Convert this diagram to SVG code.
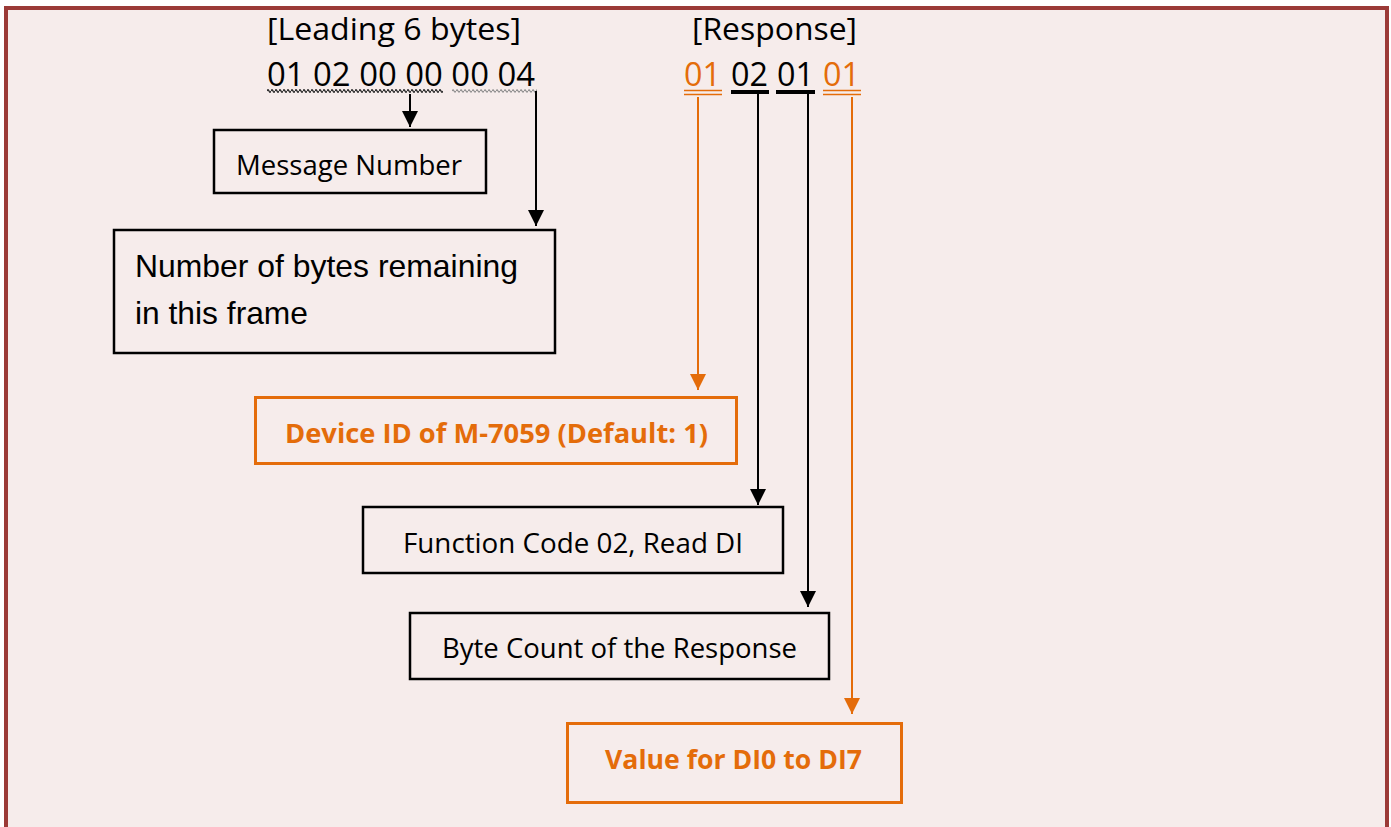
<svg xmlns="http://www.w3.org/2000/svg" width="1391" height="827" viewBox="0 0 1391 827">
<defs>
<style>
.box{fill:none;stroke:#000;stroke-width:2.5}
.obox{fill:none;stroke:#e46c0a;stroke-width:3}
.t{font-family:"Open Sans","Noto Sans",sans-serif;fill:#000}
.a{font-family:"Liberation Sans",Arial,sans-serif;fill:#000}
.o{font-family:"Open Sans","Noto Sans",sans-serif;fill:#e46c0a;font-weight:bold}
.ln{stroke:#000;stroke-width:2;fill:none}
.oln{stroke:#e46c0a;stroke-width:2;fill:none}
</style>
<pattern id="wave1" x="267" y="88" width="4" height="6" patternUnits="userSpaceOnUse">
<path d="M0,3 Q1,0.5 2,3 T4,3" fill="none" stroke="#222" stroke-width="1.3"/>
</pattern>
<pattern id="wave2" x="452" y="88" width="4" height="6" patternUnits="userSpaceOnUse">
<path d="M0,3 Q1,0.8 2,3 T4,3" fill="none" stroke="#8a8a8a" stroke-width="1.1"/>
</pattern>
<marker id="ah" markerWidth="16" markerHeight="16" viewBox="0 0 16 16" refX="16" refY="8" orient="auto" markerUnits="userSpaceOnUse">
<path d="M0,0 L16,8 L0,16 Z" fill="#000"/>
</marker>
<marker id="oah" markerWidth="16" markerHeight="16" viewBox="0 0 16 16" refX="16" refY="8" orient="auto" markerUnits="userSpaceOnUse">
<path d="M0,0 L16,8 L0,16 Z" fill="#e46c0a"/>
</marker>
</defs>
<rect x="0" y="0" width="1391" height="827" fill="#ffffff"/>
<rect x="6" y="8" width="1381" height="840" fill="#f6eceb" stroke="#9b3a37" stroke-width="4"/>

<g id="header-left">
<text class="t" x="267" y="40" font-size="30.5" textLength="254" lengthAdjust="spacingAndGlyphs">[Leading 6 bytes]</text>
<text class="t" x="267" y="86" font-size="32" textLength="268" lengthAdjust="spacingAndGlyphs">01 02 00 00 00 04</text>
<rect x="267" y="88" width="176" height="6" fill="url(#wave1)"/>
<rect x="452" y="88" width="85" height="6" fill="url(#wave2)"/>
</g>

<g id="header-right">
<text class="t" x="692" y="40" font-size="30.5" textLength="165" lengthAdjust="spacingAndGlyphs">[Response]</text>
<text class="t" x="684" y="86" font-size="32" style="fill:#e46c0a" textLength="37" lengthAdjust="spacingAndGlyphs">01</text>
<text class="t" x="731" y="86" font-size="32" textLength="37" lengthAdjust="spacingAndGlyphs">02</text>
<text class="t" x="777" y="86" font-size="32" textLength="37" lengthAdjust="spacingAndGlyphs">01</text>
<text class="t" x="823" y="86" font-size="32" style="fill:#e46c0a" textLength="37" lengthAdjust="spacingAndGlyphs">01</text>
<path d="M684,90.5 H722 M684,94.5 H722 M823,90.5 H861 M823,94.5 H861" stroke="#e46c0a" stroke-width="1.6" fill="none"/>
<path d="M731,92 H769 M776,92 H815" stroke="#000" stroke-width="4" fill="none"/>
</g>

<g id="connectors">
<line class="ln" x1="410" y1="94" x2="410" y2="127" marker-end="url(#ah)"/>
<line class="ln" x1="536" y1="91" x2="536" y2="226" marker-end="url(#ah)"/>
<line class="oln" x1="698" y1="97" x2="698" y2="390" marker-end="url(#oah)"/>
<line class="ln" x1="758" y1="94" x2="758" y2="505" marker-end="url(#ah)"/>
<line class="ln" x1="808" y1="94" x2="808" y2="607" marker-end="url(#ah)"/>
<line class="oln" x1="852" y1="97" x2="852" y2="714" marker-end="url(#oah)"/>
</g>

<g id="node-message-number">
<rect class="box" x="214" y="130" width="272" height="63"/>
<text class="t" x="236" y="175" font-size="27.5" textLength="226" lengthAdjust="spacingAndGlyphs">Message Number</text>
</g>

<g id="node-bytes-remaining">
<rect class="box" x="114" y="230" width="441" height="123"/>
<text class="a" x="135" y="277" font-size="31.5" textLength="383" lengthAdjust="spacingAndGlyphs">Number of bytes remaining</text>
<text class="a" x="135" y="324" font-size="31.5" textLength="173" lengthAdjust="spacingAndGlyphs">in this frame</text>
</g>

<g id="node-device-id">
<rect class="obox" x="255.5" y="397.5" width="481" height="66"/>
<text class="o" x="285" y="443" font-size="26.5" textLength="423" lengthAdjust="spacingAndGlyphs">Device ID of M-7059 (Default: 1)</text>
</g>

<g id="node-function-code">
<rect class="box" x="363" y="507" width="420" height="66"/>
<text class="t" x="403" y="553" font-size="27.5" textLength="340" lengthAdjust="spacingAndGlyphs">Function Code 02, Read DI</text>
</g>

<g id="node-byte-count">
<rect class="box" x="410" y="613" width="419" height="66"/>
<text class="t" x="442" y="658" font-size="27.5" textLength="355" lengthAdjust="spacingAndGlyphs">Byte Count of the Response</text>
</g>

<g id="node-value">
<rect class="obox" x="567.5" y="723.5" width="334" height="79"/>
<text class="o" x="605" y="769" font-size="27" textLength="257" lengthAdjust="spacingAndGlyphs">Value for DI0 to DI7</text>
</g>
</svg>
